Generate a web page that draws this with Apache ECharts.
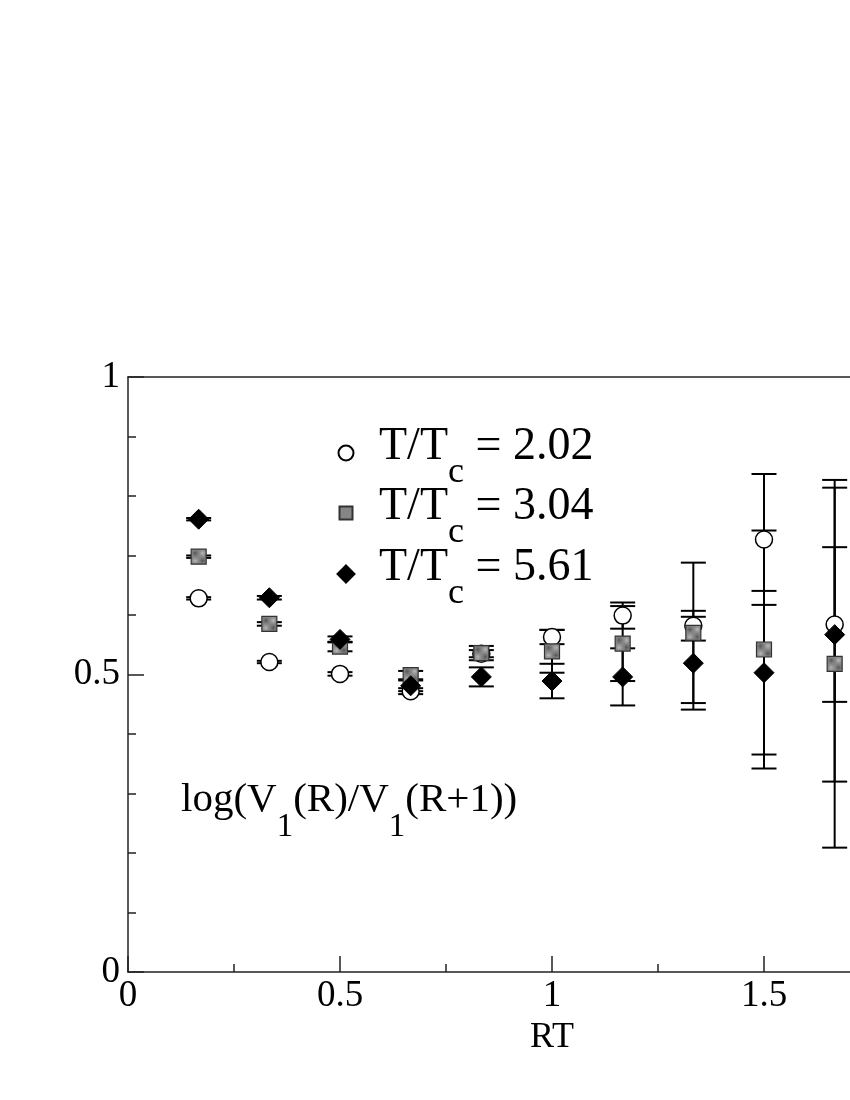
<!DOCTYPE html>
<html>
<head>
<meta charset="utf-8">
<script src="https://cdn.jsdelivr.net/npm/echarts@6/dist/echarts.min.js"></script>
<style>
html,body{margin:0;padding:0;background:#fff;}
#chart{width:850px;height:1100px;}
</style>
</head>
<body>
<div id="chart"></div>
<script>
// RT values (R/6)
var rtValues = [1/6, 2/6, 3/6, 4/6, 5/6, 1, 7/6, 8/6, 9/6, 10/6];
// T/Tc = 2.02 (open circles)
var circleY   = [0.628, 0.521, 0.501, 0.472, 0.535, 0.563, 0.599, 0.582, 0.727, 0.584];
var circleErr = [0.002, 0.002, 0.003, 0.005, 0.006, 0.012, 0.022, 0.025, 0.110, 0.130];
// T/Tc = 3.04 (gray squares)
var squareY   = [0.698, 0.585, 0.547, 0.499, 0.536, 0.539, 0.552, 0.570, 0.542, 0.518];
var squareErr = [0.002, 0.003, 0.008, 0.007, 0.012, 0.036, 0.063, 0.118, 0.200, 0.309];
// T/Tc = 5.61 (black diamonds)
var diamondY   = [0.761, 0.629, 0.559, 0.481, 0.496, 0.489, 0.496, 0.519, 0.503, 0.567];
var diamondErr = [0.002, 0.003, 0.005, 0.009, 0.016, 0.029, 0.048, 0.078, 0.1375, 0.247];

var xTicks = ['0', '0.5', '1', '1.5', '2'];
var yTicks = ['0', '0.5', '1'];
var seriesNames = ['T/Tc = 2.02', 'T/Tc = 3.04', 'T/Tc = 5.61'];
var seriesLabels = ['2.02', '3.04', '5.61'];

var FONT = '"Liberation Serif", "Times New Roman", serif';

// stipple pattern for the gray squares
var pc = document.createElement('canvas');
pc.width = 2; pc.height = 2;
var pctx = pc.getContext('2d');
pctx.fillStyle = '#b8b8b8'; pctx.fillRect(0,0,2,2);
pctx.fillStyle = '#555'; pctx.fillRect(0,0,1,1); pctx.fillRect(1,1,1,1);
var squarePattern = {image: pc, repeat: 'repeat'};

function pts(ys) { return ys.map(function(v,i){ return [rtValues[i], v]; }); }
function errs(ys, es) { return ys.map(function(v,i){ return [rtValues[i], v, es[i]]; }); }

function errRender(params, api) {
  var x = api.value(0), y = api.value(1), e = api.value(2);
  var hi = api.coord([x, y + e]);
  var lo = api.coord([x, y - e]);
  var hw = 12.5;
  var st = {stroke: '#000', lineWidth: 2};
  return {
    type: 'group',
    children: [
      {type: 'line', shape: {x1: hi[0], y1: hi[1], x2: lo[0], y2: lo[1]}, style: st},
      {type: 'line', shape: {x1: hi[0]-hw, y1: hi[1], x2: hi[0]+hw, y2: hi[1]}, style: st},
      {type: 'line', shape: {x1: lo[0]-hw, y1: lo[1], x2: lo[0]+hw, y2: lo[1]}, style: st}
    ]
  };
}

function mkLegend(i, markerY, size) {
  var gap = 378 - (345 + size/2 + 5);
  return {
    data: [seriesNames[i]],
    left: 345 - size/2,
    top: markerY - 29,
    padding: 0,
    itemWidth: size,
    itemHeight: size,
    selectedMode: false,
    formatter: function(){ return '{g| }{a|T/T}{s|c}{a| = ' + seriesLabels[i] + '}'; },
    textStyle: {padding: [9, 0, 0, 0], rich: {
      g: {width: gap},
      a: {fontFamily: FONT, fontSize: 46, color: '#000', lineHeight: 50, verticalAlign: 'top'},
      s: {fontFamily: FONT, fontSize: 36, color: '#000', lineHeight: 67, verticalAlign: 'bottom'}
    }}
  };
}

var chart = echarts.init(document.getElementById('chart'), null, {renderer: 'canvas'});
chart.setOption({
  backgroundColor: '#fff',
  animation: false,
  grid: {left: 128, top: 377, width: 848, height: 595, containLabel: false, outerBoundsMode: 'none'},
  legend: [mkLegend(0, 453, 15), mkLegend(1, 513, 13), mkLegend(2, 574, 17)],
  xAxis: [{
    type: 'value', min: 0, max: 2, interval: 0.5,
    name: 'RT', nameLocation: 'middle', nameGap: 45,
    nameTextStyle: {fontFamily: FONT, fontSize: 36, color: '#000'},
    axisLine: {show: true, onZero: false, lineStyle: {color: '#222', width: 1.5}},
    axisTick: {show: true, inside: true, length: 16, lineStyle: {color: '#222', width: 1.5}},
    minorTick: {show: true, splitNumber: 2, length: 8, lineStyle: {color: '#222', width: 1.5}},
    splitLine: {show: false},
    axisLabel: {fontFamily: FONT, fontSize: 37, color: '#000', margin: 6,
      formatter: function(v){ return xTicks[Math.round(v/0.5)]; }}
  }, {
    type: 'value', min: 0, max: 2, position: 'top',
    axisLine: {show: true, onZero: false, lineStyle: {color: '#222', width: 1.5}},
    axisTick: {show: false}, axisLabel: {show: false}, splitLine: {show: false}
  }],
  yAxis: [{
    type: 'value', min: 0, max: 1, interval: 0.5,
    axisLine: {show: true, onZero: false, lineStyle: {color: '#222', width: 1.5}},
    axisTick: {show: true, inside: true, length: 16, lineStyle: {color: '#222', width: 1.5}},
    minorTick: {show: true, splitNumber: 5, length: 8, lineStyle: {color: '#222', width: 1.5}},
    splitLine: {show: false},
    axisLabel: {fontFamily: FONT, fontSize: 37, color: '#000', margin: 8,
      formatter: function(v){ return yTicks[Math.round(v/0.5)]; }}
  }],
  graphic: [{
    type: 'text', left: 181, top: 780,
    style: {
      text: '{a|log(V}{s|1}{a|(R)/V}{s|1}{a|(R+1))}',
      rich: {
        a: {fontFamily: FONT, fontSize: 41, fill: '#000', lineHeight: 46, verticalAlign: 'top'},
        s: {fontFamily: FONT, fontSize: 33, fill: '#000', lineHeight: 64, verticalAlign: 'bottom'}
      }
    }
  }],
  series: [
    {type: 'custom', name: 'err0', renderItem: errRender, data: errs(circleY, circleErr), z: 2, silent: true},
    {type: 'scatter', name: seriesNames[0], data: pts(circleY), symbol: 'circle', symbolSize: 17, z: 2,
      itemStyle: {color: '#fff', borderColor: '#000', borderWidth: 1.5, opacity: 1}},
    {type: 'custom', name: 'err1', renderItem: errRender, data: errs(squareY, squareErr), z: 2, silent: true},
    {type: 'scatter', name: seriesNames[1], data: pts(squareY), symbol: 'rect', symbolSize: 15, z: 2,
      itemStyle: {color: squarePattern, borderColor: '#333', borderWidth: 1.2, opacity: 1}},
    {type: 'custom', name: 'err2', renderItem: errRender, data: errs(diamondY, diamondErr), z: 2, silent: true},
    {type: 'scatter', name: seriesNames[2], data: pts(diamondY), symbol: 'diamond', symbolSize: 20, z: 2,
      itemStyle: {color: '#000', borderColor: '#000', borderWidth: 1, opacity: 1}}
  ]
});
</script>
</body>
</html>
